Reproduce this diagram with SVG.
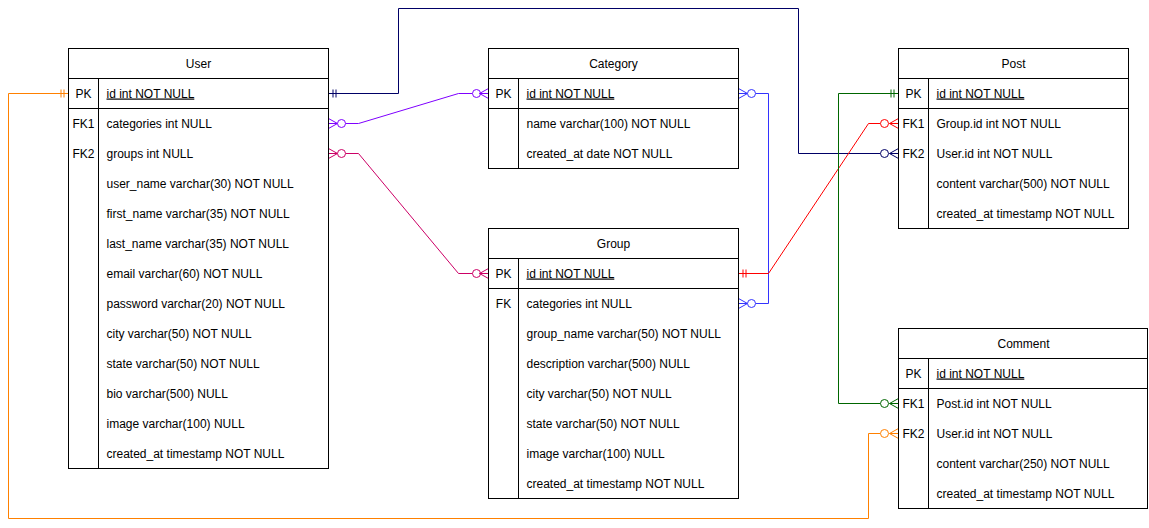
<svg xmlns="http://www.w3.org/2000/svg" width="1149" height="528" viewBox="0 0 1149 528">
  <style>
    .box { fill: #ffffff; stroke: #000000; stroke-width: 1; }
    .sep { stroke: #000000; stroke-width: 1; fill: none; }
    .t { font-family: "Liberation Sans", Arial, sans-serif; font-size: 12px; fill: #000000; }
    .title { text-anchor: middle; }
    .key { text-anchor: middle; }
    .pk { text-decoration: underline; }
    .edge { fill: none; stroke-width: 1; }
    .ring { fill: #ffffff; stroke-width: 1; }
  </style>
  <rect x="0" y="0" width="1149" height="528" fill="#ffffff"/>
  <g transform="translate(0.5,0.5)">
    <!-- relationships -->
    <g id="connectors">
      <!-- User.id -> Comment.User.id -->
      <g stroke="#FF8000">
        <path class="edge" d="M68 93 H8 V518 H868 V433 H880"/>
        <path class="edge" d="M60.5 89 V97 M63.5 89 V97"/>
        <circle class="ring" cx="884" cy="433" r="4"/>
        <path class="edge" d="M898 428 L889 433 L898 438 M889 433 H898"/>
      </g>
      <!-- User.id -> Post.User.id -->
      <g stroke="#000066">
        <path class="edge" d="M328 93 H398 V8 H798 V153 H880"/>
        <path class="edge" d="M332.5 89 V97 M335.5 89 V97"/>
        <circle class="ring" cx="884" cy="153" r="4"/>
        <path class="edge" d="M898 148 L889 153 L898 158 M889 153 H898"/>
      </g>
      <!-- User.categories -> Category.id -->
      <g stroke="#7F00FF">
        <path class="edge" d="M345 123 H358 L458 93 H472"/>
        <path class="edge" d="M328 118 L337 123 L328 128 M328 123 H337"/>
        <circle class="ring" cx="341" cy="123" r="4"/>
        <circle class="ring" cx="476" cy="93" r="4"/>
        <path class="edge" d="M488 88 L479 93 L488 98 M479 93 H488"/>
      </g>
      <!-- User.groups -> Group.id -->
      <g stroke="#CC0066">
        <path class="edge" d="M345 153 H358 L458 273 H472"/>
        <path class="edge" d="M328 148 L337 153 L328 158 M328 153 H337"/>
        <circle class="ring" cx="341" cy="153" r="4"/>
        <circle class="ring" cx="476" cy="273" r="4"/>
        <path class="edge" d="M488 268 L479 273 L488 278 M479 273 H488"/>
      </g>
      <!-- Category.id -> Group.categories -->
      <g stroke="#3333FF">
        <path class="edge" d="M755 93 H768 V303 H755"/>
        <path class="edge" d="M738 88 L747 93 L738 98 M738 93 H747"/>
        <circle class="ring" cx="751" cy="93" r="4"/>
        <path class="edge" d="M738 298 L747 303 L738 308 M738 303 H747"/>
        <circle class="ring" cx="751" cy="303" r="4"/>
      </g>
      <!-- Group.id -> Post.Group.id -->
      <g stroke="#FF0000">
        <path class="edge" d="M738 273 H768 L868 123 H880"/>
        <path class="edge" d="M742.5 269 V277 M745.5 269 V277"/>
        <circle class="ring" cx="884" cy="123" r="4"/>
        <path class="edge" d="M898 118 L889 123 L898 128 M889 123 H898"/>
      </g>
      <!-- Post.id -> Comment.Post.id -->
      <g stroke="#006600">
        <path class="edge" d="M898 93 H838 V403 H880"/>
        <path class="edge" d="M890.5 89 V97 M893.5 89 V97"/>
        <circle class="ring" cx="884" cy="403" r="4"/>
        <path class="edge" d="M898 398 L889 403 L898 408 M889 403 H898"/>
      </g>
    </g>

    <!-- User -->
    <g id="user">
      <rect class="box" x="68" y="48" width="260" height="420"/>
      <path class="sep" d="M68 78 H328 M68 108 H328 M98 78 V468"/>
      <text class="t title" x="198" y="67">User</text>
      <text class="t key" x="83" y="97">PK</text>
      <text class="t pk" x="106" y="97">id int NOT NULL</text>
      <text class="t key" x="83" y="127">FK1</text>
      <text class="t" x="106" y="127">categories int NULL</text>
      <text class="t key" x="83" y="157">FK2</text>
      <text class="t" x="106" y="157">groups int NULL</text>
      <text class="t" x="106" y="187">user_name varchar(30) NOT NULL</text>
      <text class="t" x="106" y="217">first_name varchar(35) NOT NULL</text>
      <text class="t" x="106" y="247">last_name varchar(35) NOT NULL</text>
      <text class="t" x="106" y="277">email varchar(60) NOT NULL</text>
      <text class="t" x="106" y="307">password varchar(20) NOT NULL</text>
      <text class="t" x="106" y="337">city varchar(50) NOT NULL</text>
      <text class="t" x="106" y="367">state varchar(50) NOT NULL</text>
      <text class="t" x="106" y="397">bio varchar(500) NULL</text>
      <text class="t" x="106" y="427">image varchar(100) NULL</text>
      <text class="t" x="106" y="457">created_at timestamp NOT NULL</text>
    </g>

    <!-- Category -->
    <g id="category">
      <rect class="box" x="488" y="48" width="250" height="120"/>
      <path class="sep" d="M488 78 H738 M488 108 H738 M518 78 V168"/>
      <text class="t title" x="613" y="67">Category</text>
      <text class="t key" x="503" y="97">PK</text>
      <text class="t pk" x="526" y="97">id int NOT NULL</text>
      <text class="t" x="526" y="127">name varchar(100) NOT NULL</text>
      <text class="t" x="526" y="157">created_at date NOT NULL</text>
    </g>

    <!-- Group -->
    <g id="group">
      <rect class="box" x="488" y="228" width="250" height="270"/>
      <path class="sep" d="M488 258 H738 M488 288 H738 M518 258 V498"/>
      <text class="t title" x="613" y="247">Group</text>
      <text class="t key" x="503" y="277">PK</text>
      <text class="t pk" x="526" y="277">id int NOT NULL</text>
      <text class="t key" x="503" y="307">FK</text>
      <text class="t" x="526" y="307">categories int NULL</text>
      <text class="t" x="526" y="337">group_name varchar(50) NOT NULL</text>
      <text class="t" x="526" y="367">description varchar(500) NULL</text>
      <text class="t" x="526" y="397">city varchar(50) NOT NULL</text>
      <text class="t" x="526" y="427">state varchar(50) NOT NULL</text>
      <text class="t" x="526" y="457">image varchar(100) NULL</text>
      <text class="t" x="526" y="487">created_at timestamp NOT NULL</text>
    </g>

    <!-- Post -->
    <g id="post">
      <rect class="box" x="898" y="48" width="230" height="180"/>
      <path class="sep" d="M898 78 H1128 M898 108 H1128 M928 78 V228"/>
      <text class="t title" x="1013" y="67">Post</text>
      <text class="t key" x="913" y="97">PK</text>
      <text class="t pk" x="936" y="97">id int NOT NULL</text>
      <text class="t key" x="913" y="127">FK1</text>
      <text class="t" x="936" y="127">Group.id int NOT NULL</text>
      <text class="t key" x="913" y="157">FK2</text>
      <text class="t" x="936" y="157">User.id int NOT NULL</text>
      <text class="t" x="936" y="187">content varchar(500) NOT NULL</text>
      <text class="t" x="936" y="217">created_at timestamp NOT NULL</text>
    </g>

    <!-- Comment -->
    <g id="comment">
      <rect class="box" x="898" y="328" width="249" height="180"/>
      <path class="sep" d="M898 358 H1147 M898 388 H1147 M928 358 V508"/>
      <text class="t title" x="1023" y="347">Comment</text>
      <text class="t key" x="913" y="377">PK</text>
      <text class="t pk" x="936" y="377">id int NOT NULL</text>
      <text class="t key" x="913" y="407">FK1</text>
      <text class="t" x="936" y="407">Post.id int NOT NULL</text>
      <text class="t key" x="913" y="437">FK2</text>
      <text class="t" x="936" y="437">User.id int NOT NULL</text>
      <text class="t" x="936" y="467">content varchar(250) NOT NULL</text>
      <text class="t" x="936" y="497">created_at timestamp NOT NULL</text>
    </g>
  </g>
</svg>
